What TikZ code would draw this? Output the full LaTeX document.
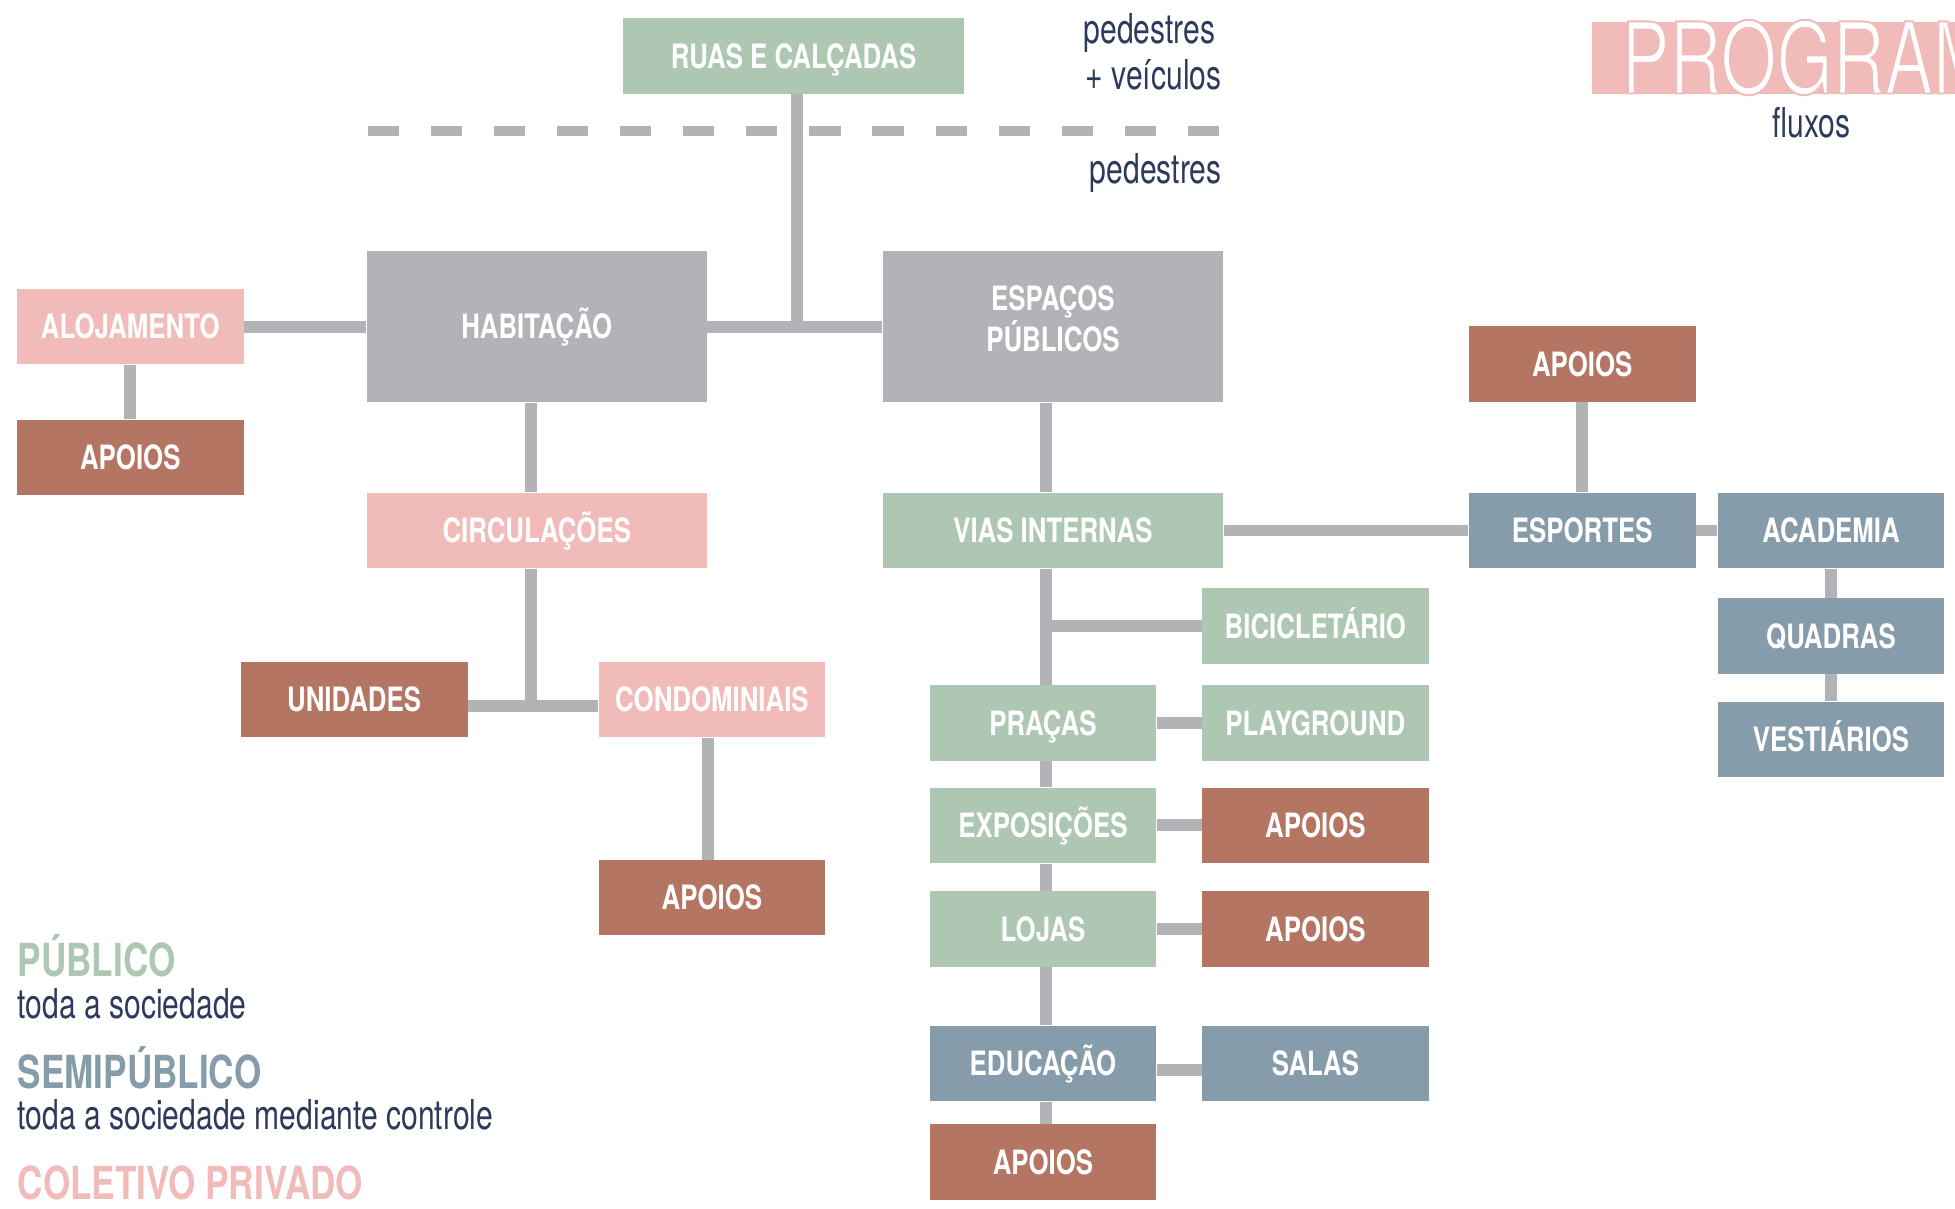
\documentclass[tikz,border=0pt]{standalone}
\usepackage{fontspec}
\newfontfamily\cnfont{TeX Gyre Heros}[FakeStretch=0.73]
\newfontfamily\boldcn{TeX Gyre Heros}[FakeStretch=0.77]
\newcommand\caixafont{\boldcn\bfseries\fontsize{15.3}{17}\selectfont}
\newcommand\legfont{\boldcn\bfseries\fontsize{20.8}{24}\selectfont}
\newcommand\notafont{\cnfont\fontsize{18.8}{22}\selectfont}
\newcommand\finotxt[1]{\special{pdf:literal direct 2 Tr 0.9 w 0.941 0.733 0.722 RG}#1\special{pdf:literal direct 0 Tr}}
\definecolor{cinza}{HTML}{B2B3B7}
\definecolor{verde}{HTML}{ADC7B2}
\definecolor{rosa}{HTML}{F0BBB8}
\definecolor{terra}{HTML}{B47663}
\definecolor{azul}{HTML}{879CAB}
\definecolor{marinho}{HTML}{2E3A5C}

\begin{document}
\begin{tikzpicture}[x=0.02cm,y=-0.02cm,
  caixa/.style={minimum width=3.64cm,minimum height=1.21cm,inner sep=0pt,
    text=white,text height=0.39cm,text depth=0cm,font=\caixafont},
  larga/.style={caixa,minimum width=5.46cm},
  grande/.style={caixa,minimum width=5.46cm,minimum height=2.42cm},
  pub/.style={fill=verde},
  semi/.style={fill=azul},
  priv/.style={fill=rosa},
  apoio/.style={fill=terra},
  geral/.style={fill=cinza},
  link/.style={draw=cinza,line width=0.19cm},
  nota/.style={text=marinho,font=\notafont,inner sep=0pt}]
  \clip (0,0) rectangle (1568,969);

  \draw[cinza,line width=0.16cm,dash pattern=on 0.5cm off 0.512cm] (295,105) -- (980,105);
  \node[nota,anchor=base east] (pv1) at (975,35) {pedestres};
  \node[nota,anchor=base east] (pv2) at (980,72) {+ veículos};
  \node[nota,anchor=base east] (pd) at (980,147) {pedestres};

  \fill[rosa] (1277,18) rectangle (1568,75);
  \node[text=white,inner sep=0pt,anchor=base west,font=\cnfont\fontsize{45.1}{50}\selectfont] (tit) at (1300,75) {\finotxt{PROGRAM}};
  \node[nota,anchor=base] (flux) at (1453,110) {fluxos};

  \node[larga,pub] (ruas) at (636.5,45) {RUAS E CALÇADAS};
  \node[grande,geral] (hab) at (430.5,262) {HABITAÇÃO};
  \node[grande,geral,align=center,text height=0.99cm,text depth=0.2cm] (esp) at (844.5,262) {ESPAÇOS\\PÚBLICOS};
  \node[caixa,priv] (aloj) at (104.5,262) {ALOJAMENTO};
  \node[caixa,apoio] (apA) at (104.5,367) {APOIOS};
  \node[larga,priv] (circ) at (430.5,425.5) {CIRCULAÇÕES};
  \node[caixa,apoio] (unid) at (284,561) {UNIDADES};
  \node[caixa,priv] (cond) at (571,561) {CONDOMINIAIS};
  \node[caixa,apoio] (apC) at (571,720) {APOIOS};

  \node[larga,pub] (vias) at (844.5,425.5) {VIAS INTERNAS};
  \node[caixa,pub] (bici) at (1055,502) {BICICLETÁRIO};
  \node[caixa,pub] (pracas) at (836.5,580) {PRAÇAS};
  \node[caixa,pub] (play) at (1055,580) {PLAYGROUND};
  \node[caixa,pub] (expo) at (836.5,662) {EXPOSIÇÕES};
  \node[caixa,apoio] (apX) at (1055,662) {APOIOS};
  \node[caixa,pub] (lojas) at (836.5,745) {LOJAS};
  \node[caixa,apoio] (apL) at (1055,745) {APOIOS};
  \node[caixa,semi] (educ) at (836.5,853) {EDUCAÇÃO};
  \node[caixa,semi] (salas) at (1055,853) {SALAS};
  \node[caixa,apoio] (apD) at (836.5,932) {APOIOS};

  \node[caixa,apoio] (apE) at (1269,292) {APOIOS};
  \node[caixa,semi] (esportes) at (1269,425.5) {ESPORTES};
  \node[caixa,semi] (acad) at (1468.5,425.5) {ACADEMIA};
  \node[caixa,semi] (quad) at (1468.5,510) {QUADRAS};
  \node[caixa,semi] (vest) at (1468.5,593) {VESTIÁRIOS};

  \coordinate (j1) at (639,262);
  \coordinate (j2) at (426,566);
  \coordinate (j3) at (568,650);
  \coordinate (sp) at (839,500);

  \draw[link] (ruas.south -| j1) -- (j1);
  \draw[link] (aloj) -- (hab);
  \draw[link] (hab) -- (esp);
  \draw[link] (aloj) -- (apA);
  \draw[link] (hab.south -| j2) -- (circ.north -| j2);
  \draw[link] (circ.south -| j2) -- (j2);
  \draw[link] (unid.east |- j2) -- (cond.west |- j2);
  \draw[link] (cond.south -| j3) -- (apC.north -| j3);

  \draw[link] (esp.south -| sp) -- (vias.north -| sp);
  \foreach \a/\b in {vias/pracas,pracas/expo,expo/lojas,lojas/educ,educ/apD}
    \draw[link] (\a.south -| sp) -- (\b.north -| sp);
  \draw[link] (bici.west) -- (bici.west -| sp);
  \draw[link] (pracas) -- (play);
  \draw[link] (expo) -- (apX);
  \draw[link] (lojas) -- (apL);
  \draw[link] ([yshift=-0.1cm]educ.east) -- ([yshift=-0.1cm]salas.west);

  \draw[link] (vias) -- (esportes);
  \draw[link] (esportes) -- (apE);
  \draw[link] (esportes) -- (acad);
  \draw[link] (acad) -- (quad);
  \draw[link] (quad) -- (vest);

  \node[inner sep=0pt,anchor=base west,text=verde,font=\legfont] (l1) at (14,783) {PÚBLICO};
  \node[nota,anchor=base west] (n1) at (14,817) {toda a sociedade};
  \node[inner sep=0pt,anchor=base west,text=azul,font=\legfont] (l2) at (14,873) {SEMIPÚBLICO};
  \node[nota,anchor=base west] (n2) at (14,906) {toda a sociedade mediante controle};
  \node[inner sep=0pt,anchor=base west,text=rosa,font=\legfont] (l3) at (14,962) {COLETIVO PRIVADO};
\end{tikzpicture}
\end{document}
